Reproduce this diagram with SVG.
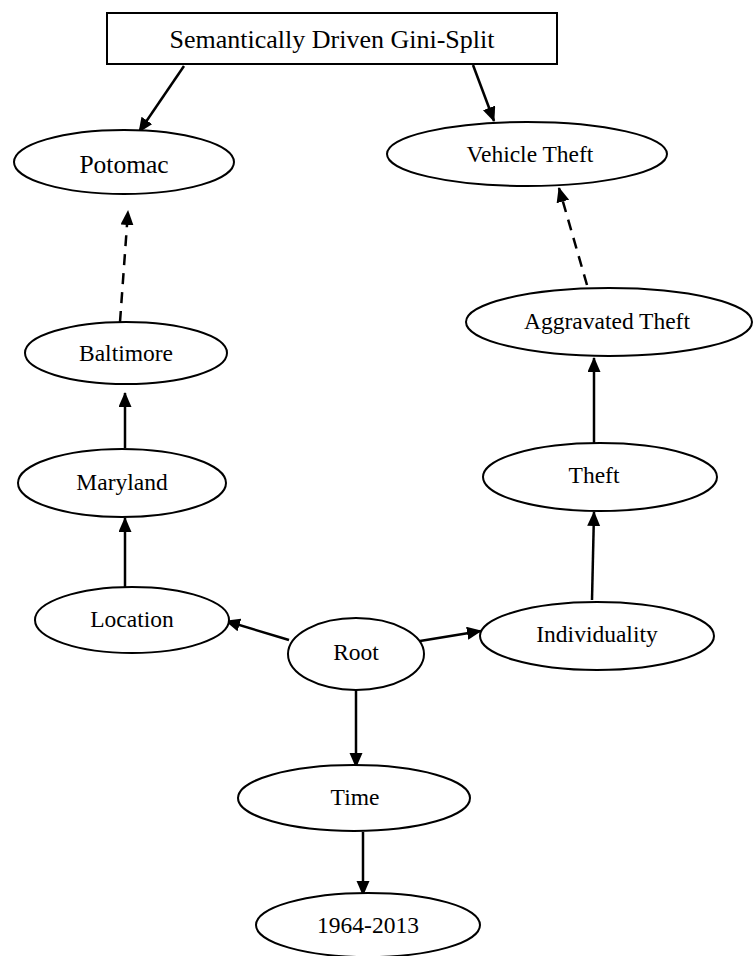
<svg xmlns="http://www.w3.org/2000/svg" width="753" height="956" viewBox="0 0 753 956">
<style>
  .node { fill: #fff; stroke: #000; stroke-width: 2; }
  .lbl { font-family: "Liberation Serif", "Times New Roman", serif; font-size: 23.5px; fill: #000; text-anchor: middle; }
  .edge { stroke: #000; stroke-width: 2.5; fill: none; marker-end: url(#ah); }
  .dash { stroke-dasharray: 11 8; }
</style>
<defs>
  <marker id="ah" markerUnits="userSpaceOnUse" markerWidth="16" markerHeight="14" refX="14" refY="6.5" orient="auto">
    <path d="M0,0 L15,6.5 L0,13 z" fill="#000"/>
  </marker>
</defs>
<rect width="753" height="956" fill="#fff"/>
<g id="connectors">
  <line class="edge" x1="184" y1="66" x2="139" y2="132"/>
  <line class="edge" x1="473" y1="65" x2="494" y2="121"/>
  <line class="edge dash" x1="120" y1="322" x2="128" y2="211"/>
  <line class="edge dash" x1="587" y1="285" x2="559" y2="188"/>
  <line class="edge" x1="125" y1="448" x2="125" y2="393"/>
  <line class="edge" x1="594" y1="447" x2="594" y2="358"/>
  <line class="edge" x1="125" y1="588" x2="125" y2="518"/>
  <line class="edge" x1="592" y1="600" x2="594" y2="512"/>
  <line class="edge" x1="289" y1="640" x2="226" y2="621"/>
  <line class="edge" x1="420" y1="641" x2="481" y2="631"/>
  <line class="edge" x1="356" y1="690" x2="356" y2="767"/>
  <line class="edge" x1="363" y1="832" x2="363" y2="895"/>
</g>
<g id="title">
  <rect class="node" x="107" y="13" width="450" height="51"/>
  <text class="lbl" x="332" y="48" style="font-size:26px">Semantically Driven Gini-Split</text>
</g>
<g id="potomac">
  <ellipse class="node" cx="124" cy="162" rx="110" ry="32"/>
  <text class="lbl" x="124" y="173" style="font-size:25.5px">Potomac</text>
</g>
<g id="vehicle-theft">
  <ellipse class="node" cx="527" cy="154" rx="140" ry="32"/>
  <text class="lbl" x="530" y="162">Vehicle Theft</text>
</g>
<g id="baltimore">
  <ellipse class="node" cx="126" cy="353" rx="101" ry="31"/>
  <text class="lbl" x="126" y="361">Baltimore</text>
</g>
<g id="aggravated-theft">
  <ellipse class="node" cx="609" cy="322" rx="143" ry="34"/>
  <text class="lbl" x="607" y="329">Aggravated Theft</text>
</g>
<g id="maryland">
  <ellipse class="node" cx="122" cy="483" rx="104" ry="34"/>
  <text class="lbl" x="122" y="490">Maryland</text>
</g>
<g id="theft">
  <ellipse class="node" cx="600" cy="477" rx="117" ry="34"/>
  <text class="lbl" x="594" y="483">Theft</text>
</g>
<g id="location">
  <ellipse class="node" cx="132" cy="620" rx="97" ry="33"/>
  <text class="lbl" x="132" y="627">Location</text>
</g>
<g id="root">
  <ellipse class="node" cx="356" cy="654" rx="68" ry="36"/>
  <text class="lbl" x="356" y="660">Root</text>
</g>
<g id="individuality">
  <ellipse class="node" cx="597" cy="636" rx="117" ry="34"/>
  <text class="lbl" x="597" y="642">Individuality</text>
</g>
<g id="time">
  <ellipse class="node" cx="354" cy="798" rx="116" ry="33"/>
  <text class="lbl" x="355" y="805">Time</text>
</g>
<g id="years">
  <ellipse class="node" cx="368" cy="925" rx="112" ry="32"/>
  <text class="lbl" x="368" y="933">1964-2013</text>
</g>
</svg>
